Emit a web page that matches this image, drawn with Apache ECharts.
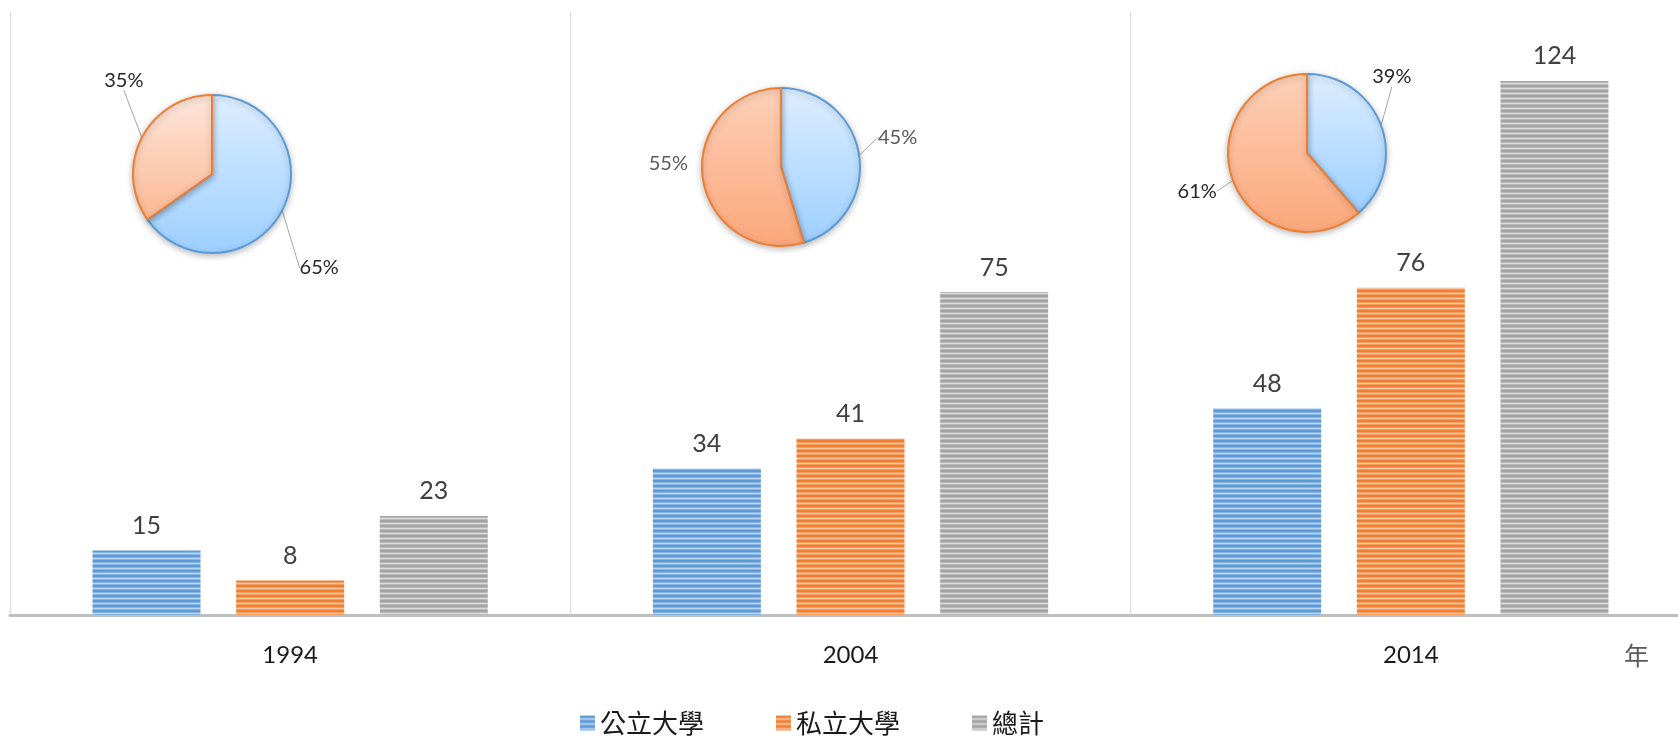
<!DOCTYPE html>
<html>
<head>
<meta charset="utf-8">
<script src="https://cdn.jsdelivr.net/npm/echarts@6/dist/echarts.min.js"></script>
<style>
html,body{margin:0;padding:0;background:#fff;}
#chart{width:1678px;height:739px;}
</style>
</head>
<body>
<div id="chart"></div>
<script>
// ---- data ----
var years = ['1994', '2004', '2014'];
var publicUni = [15, 34, 48];
var privateUni = [8, 41, 76];
var totalUni = [23, 75, 124];
var seriesNames = ['公立大學', '私立大學', '總計'];
var unitLabel = '年';

function stripe(dark, mid, light) {
  var c = document.createElement('canvas');
  c.width = 4; c.height = 5;
  var g = c.getContext('2d');
  var rows = [dark, dark, mid, light, mid];
  for (var i = 0; i < rows.length; i++) { g.fillStyle = rows[i]; g.fillRect(0, i, 4, 1); }
  return { image: c, repeat: 'repeat' };
}
var blueP = stripe('#5f9ad6', '#86b4e3', '#bcd6f1');
var orangeP = stripe('#ee7f33', '#f29d62', '#f8c8a5');
var grayP = stripe('#a3a3a3', '#bababa', '#dcdcdc');

var numFont = 'Lato, "Open Sans", sans-serif';
var cjkFont = '"Noto Sans CJK TC", "Noto Sans CJK SC", sans-serif';

function grad(top, bottom) {
  return { type: 'linear', x: 0, y: 0, x2: 0, y2: 1,
    colorStops: [{ offset: 0, color: top }, { offset: 1, color: bottom }] };
}
// layout of the three pies and nudges of their labels (pixels)
var pieCenters = [[212, 174], [781, 167], [1307, 153]];
var pieLabelColors = ['#262626', '#595959', '#262626'];
var pieLabelNudge = [
  [[0, 51], [19, -51]],
  [[0, -16], [4, -17]],
  [[-27, -44], [2, 6]]
];
var pieOrangeTop = ['#fde6dc', '#fdd0b8', '#fdd0b8'];
var pieOrangeBottom = ['#fbb892', '#fba77a', '#fba77a'];

function barSeries(name, data, color) {
  return {
    name: name, type: 'bar', data: data, barWidth: 108, barGap: '33%',
    itemStyle: { color: color },
    label: { show: true, position: 'top', distance: 12, fontSize: 25,
      fontFamily: numFont, color: '#404040' },
    z: 2
  };
}

var series = [
  barSeries(seriesNames[0], publicUni, blueP),
  barSeries(seriesNames[1], privateUni, orangeP),
  barSeries(seriesNames[2], totalUni, grayP)
];

var pieSeriesStart = series.length;
years.forEach(function (y, i) {
  series.push({
    type: 'pie', name: y + '比例', center: pieCenters[i], radius: 79,
    startAngle: 90, clockwise: true, percentPrecision: 0,
    legendHoverLink: false, z: 5,
    label: { show: true, position: 'outside', formatter: '{d}%', fontSize: 20,
      fontFamily: numFont, color: pieLabelColors[i] },
    labelLine: { show: true, length: 14, length2: 0, lineStyle: { color: '#a6a6a6', width: 1 } },
    labelLayout: function (p) {
      var n = pieLabelNudge[p.seriesIndex - pieSeriesStart][p.dataIndex];
      var r = p.labelRect;
      return { x: r.x + n[0], y: r.y + n[1], align: 'left', verticalAlign: 'top' };
    },
    itemStyle: { borderWidth: 2, shadowBlur: 6, shadowColor: 'rgba(0,0,0,0.25)', shadowOffsetY: 2 },
    data: [
      { value: publicUni[i], name: seriesNames[0] + y,
        itemStyle: { color: grad('#deeeff', '#9ccfff'), borderColor: '#5b9bd5' } },
      { value: privateUni[i], name: seriesNames[1] + y,
        labelLine: { show: i !== 1 },
        itemStyle: { color: grad(pieOrangeTop[i], pieOrangeBottom[i]), borderColor: '#ed7d31' } }
    ]
  });
});

var chart = echarts.init(document.getElementById('chart'));
chart.setOption({
  animation: false,
  backgroundColor: '#fff',
  grid: { left: 10, right: -13, top: 12, bottom: 124, containLabel: false, outerBoundsMode: 'none' },
  legend: {
    data: seriesNames, left: 575, top: 705, icon: 'rect', itemWidth: 15, itemHeight: 15,
    itemGap: 72, textStyle: { fontSize: 26, fontFamily: cjkFont, color: '#1a1a1a' }
  },
  xAxis: {
    type: 'category', data: years,
    axisLine: { show: true, lineStyle: { color: '#bfbfbf', width: 3 } },
    axisTick: { show: false },
    axisLabel: { fontSize: 24, fontFamily: numFont, color: '#1a1a1a', margin: 28 },
    splitLine: { show: true, lineStyle: { color: '#d9d9d9', width: 1 } }
  },
  yAxis: { type: 'value', min: 0, max: 140, show: false, splitLine: { show: false } },
  graphic: [{
    type: 'text', left: 1624, top: 643,
    style: { text: unitLabel, fontSize: 25, fontFamily: cjkFont, fill: '#595959' }
  }],
  series: series
});
</script>
</body>
</html>
